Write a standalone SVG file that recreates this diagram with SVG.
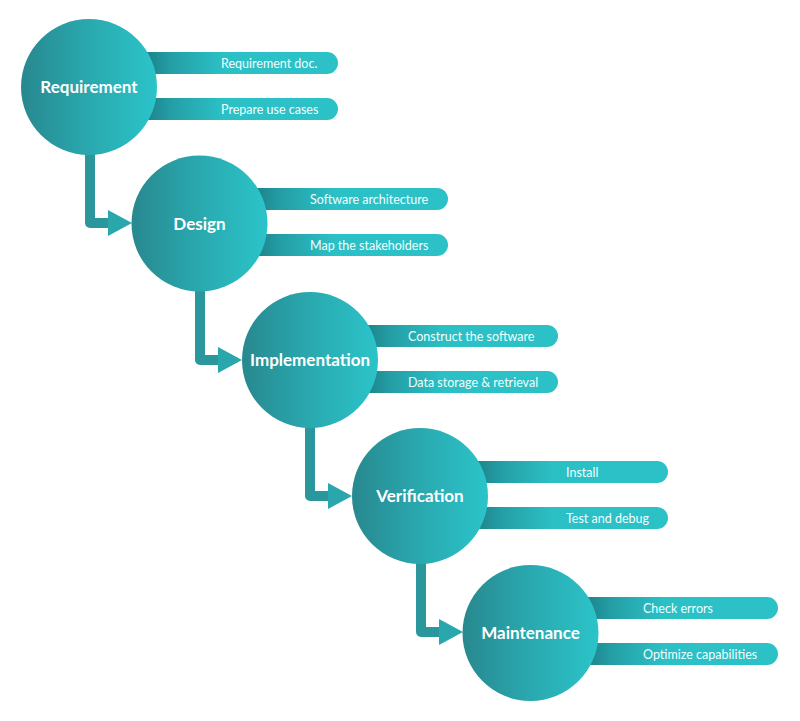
<svg xmlns="http://www.w3.org/2000/svg" width="800" height="721" viewBox="0 0 800 721">
<defs>
<linearGradient id="gCircle" x1="0" y1="0" x2="1" y2="0">
<stop offset="0" stop-color="#28888f"/>
<stop offset="0.5" stop-color="#29a9af"/>
<stop offset="1" stop-color="#2bc4c9"/>
</linearGradient>
<linearGradient id="gBar" x1="0" y1="0" x2="1" y2="0">
<stop offset="0.05" stop-color="#1d7a82"/>
<stop offset="0.2" stop-color="#249ea5"/>
<stop offset="0.45" stop-color="#2bc0c5"/>
<stop offset="1" stop-color="#2bc2c7"/>
</linearGradient>
<style>
.circle{fill:url(#gCircle);}
.bar{fill:url(#gBar);}
.title{font-family:Lato,"Open Sans",sans-serif;font-weight:bold;font-size:17px;fill:#ffffff;text-anchor:middle;}
.item{font-family:Lato,"Open Sans",sans-serif;font-size:12.5px;fill:#f2ffff;}
.conn{fill:none;stroke:#2a979d;stroke-width:10;stroke-linejoin:round;stroke-linecap:butt;}
.head{fill:#2aa7ad;}
</style>
</defs>
<rect width="800" height="721" fill="#ffffff"/>
<g id="connectors">
<path class="conn" d="M90 150 V223 H112"/>
<polygon class="head" points="108,210 132,223 108,236"/>
<path class="conn" d="M200 287 V360 H222"/>
<polygon class="head" points="218,347 242,360 218,373"/>
<path class="conn" d="M310 423 V496 H332"/>
<polygon class="head" points="328,483 352,496 328,509"/>
<path class="conn" d="M421 560 V632 H443"/>
<polygon class="head" points="439,619 463,632 439,645"/>
</g>
<g id="requirement">
<rect class="bar" x="129" y="52" width="209" height="22" rx="11"/>
<rect class="bar" x="129" y="98" width="209" height="22" rx="11"/>
<circle class="circle" cx="89" cy="87" r="68"/>
<text class="title" x="89" y="93">Requirement</text>
<text class="item" x="221" y="67.5">Requirement doc.</text>
<text class="item" x="221" y="113.5">Prepare use cases</text>
</g>
<g id="design">
<rect class="bar" x="239" y="188" width="209" height="22" rx="11"/>
<rect class="bar" x="239" y="234" width="209" height="22" rx="11"/>
<circle class="circle" cx="199.5" cy="223.5" r="68"/>
<text class="title" x="199.5" y="229.5">Design</text>
<text class="item" x="310" y="203.5">Software architecture</text>
<text class="item" x="310" y="249.5">Map the stakeholders</text>
</g>
<g id="implementation">
<rect class="bar" x="349" y="325" width="209" height="22" rx="11"/>
<rect class="bar" x="349" y="371" width="209" height="22" rx="11"/>
<circle class="circle" cx="310" cy="360" r="68"/>
<text class="title" x="310" y="366">Implementation</text>
<text class="item" x="408" y="340.5">Construct the software</text>
<text class="item" x="408" y="386.5">Data storage &amp; retrieval</text>
</g>
<g id="verification">
<rect class="bar" x="459" y="461" width="209" height="22" rx="11"/>
<rect class="bar" x="459" y="507" width="209" height="22" rx="11"/>
<circle class="circle" cx="420" cy="496" r="68"/>
<text class="title" x="420" y="502">Verification</text>
<text class="item" x="566" y="476.5">Install</text>
<text class="item" x="566" y="522.5">Test and debug</text>
</g>
<g id="maintenance">
<rect class="bar" x="569" y="597" width="209" height="22" rx="11"/>
<rect class="bar" x="569" y="643" width="209" height="22" rx="11"/>
<circle class="circle" cx="530.5" cy="633" r="68"/>
<text class="title" x="530.5" y="639">Maintenance</text>
<text class="item" x="643" y="612.5">Check errors</text>
<text class="item" x="643" y="658.5">Optimize capabilities</text>
</g>
</svg>
